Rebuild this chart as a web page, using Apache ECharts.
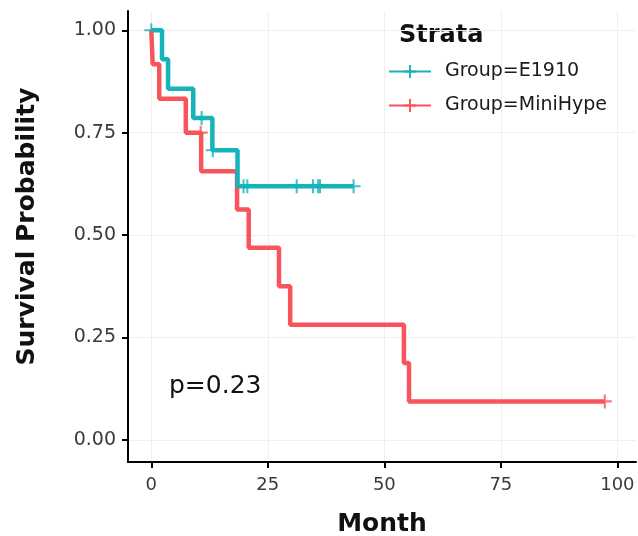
<!DOCTYPE html>
<html>
<head>
<meta charset="utf-8">
<script src="https://cdn.jsdelivr.net/npm/echarts@6/dist/echarts.min.js"></script>
<style>
  html, body { margin: 0; padding: 0; background: #fff; }
  #main { width: 638px; height: 536px; }
</style>
</head>
<body>
<div id="main"></div>
<script>
// Kaplan-Meier steps
var e1910Time = [0, 2.3, 3.6, 9.0, 13.1, 18.5, 43.4];
var e1910Surv = [1, 0.929, 0.857, 0.786, 0.707, 0.619, 0.619];
var e1910Censor = [0, 10.8, 13.2, 19.8, 20.6, 31.2, 34.7, 35.8, 36.2, 43.4];

var miniTime = [0, 0.3, 1.7, 7.4, 10.7, 18.4, 20.9, 27.4, 29.8, 54.2, 55.3, 97.3];
var miniSurv = [1, 0.917, 0.833, 0.75, 0.656, 0.5625, 0.469, 0.375, 0.281, 0.1875, 0.094, 0.094];
var miniCensor = [10.6, 97.3];

var xTicks = [0, 25, 50, 75, 100];
var yTicks = [0, 0.25, 0.5, 0.75, 1];

var groupNames = ['Group=E1910', 'Group=MiniHype'];
var colTeal = '#17B3BA';
var colRed = '#F7545B';
var FONT = '"DejaVu Sans", "Noto Sans", sans-serif';

var plus = 'path://M-1.5,-10 L1.5,-10 L1.5,10 L-1.5,10 Z M-10,-1.5 L10,-1.5 L10,1.5 L-10,1.5 Z';

function pairs(t, s) {
  return t.map(function (v, i) { return [v, s[i]]; });
}
// survival value at time x (step function, value before drop)
function survAt(t, s, x) {
  var v = s[0];
  for (var i = 0; i < t.length; i++) {
    if (t[i] <= x) v = s[i];
  }
  return v;
}
function censorPts(c, t, s) {
  return c.map(function (x) { return [x, survAt(t, s, x)]; });
}

var chart = echarts.init(document.getElementById('main'));
var option = {
  backgroundColor: '#fff',
  animation: false,
  textStyle: { fontFamily: FONT },
  grid: { left: 128, right: 2, top: 11, bottom: 74, containLabel: false, outerBoundsMode: 'none' },
  legend: {
    data: groupNames,
    orient: 'vertical',
    left: 383,
    top: 56,
    itemWidth: 42,
    itemHeight: 16,
    itemGap: 13,
    textStyle: { fontSize: 19, color: '#1a1a1a', fontFamily: FONT, lineHeight: 21, padding: [0, 0, 0, 9] }
  },
  graphic: [
    { type: 'text', left: 399, top: 24,
      style: { text: 'Strata', fontSize: 24, fontWeight: 'bold', fill: '#111', fontFamily: FONT } },
    { type: 'text', left: 169, top: 374,
      style: { text: 'p=0.23', fontSize: 25, fill: '#111', fontFamily: FONT } }
  ],
  xAxis: {
    type: 'value',
    min: -5, max: 104,
    name: 'Month',
    nameLocation: 'middle',
    nameGap: 50,
    nameTextStyle: { fontSize: 25, fontWeight: 'bold', color: '#111', fontFamily: FONT },
    axisLine: { show: true, onZero: false, lineStyle: { color: '#000', width: 2 } },
    axisTick: { show: true, length: 6, customValues: xTicks, lineStyle: { color: '#000', width: 2 } },
    axisLabel: { customValues: xTicks, fontSize: 18, color: '#3a3a3a', margin: 14, fontFamily: FONT },
    splitLine: { show: true, lineStyle: { color: '#efefef', width: 1 } }
  },
  yAxis: {
    type: 'value',
    min: -0.054, max: 1.047,
    name: 'Survival Probability',
    nameLocation: 'middle',
    nameGap: 88,
    nameTextStyle: {
      fontSize: 25, fontWeight: 'bold', color: '#111', fontFamily: FONT,
      padding: [0, 0, 0, 20]
    },
    axisLine: { show: true, onZero: false, lineStyle: { color: '#000', width: 2 } },
    axisTick: { show: true, length: 6, customValues: yTicks, lineStyle: { color: '#000', width: 2 } },
    axisLabel: {
      customValues: yTicks, fontSize: 19, color: '#3a3a3a', margin: 12, fontFamily: FONT,
      formatter: function (v) { return v.toFixed(2); }
    },
    splitLine: { show: true, lineStyle: { color: '#efefef', width: 1 } }
  },
  series: [
    {
      name: 'Group=MiniHype',
      type: 'line',
      step: 'end',
      data: pairs(miniTime, miniSurv),
      showSymbol: false,
      symbol: plus,
      symbolSize: 14,
      color: colRed,
      lineStyle: { width: 4.5, color: colRed }
    },
    {
      name: 'cens-mini',
      type: 'scatter',
      data: censorPts(miniCensor, miniTime, miniSurv),
      symbol: plus,
      symbolSize: 14,
      itemStyle: { color: colRed }
    },
    {
      name: 'Group=E1910',
      type: 'line',
      step: 'end',
      data: pairs(e1910Time, e1910Surv),
      showSymbol: false,
      symbol: plus,
      symbolSize: 14,
      color: colTeal,
      lineStyle: { width: 4.5, color: colTeal }
    },
    {
      name: 'cens-e1910',
      type: 'scatter',
      data: censorPts(e1910Censor, e1910Time, e1910Surv),
      symbol: plus,
      symbolSize: 14,
      itemStyle: { color: colTeal }
    }
  ]
};
chart.setOption(option);
window.addEventListener('resize', function () { chart.resize(); });
</script>
</body>
</html>
